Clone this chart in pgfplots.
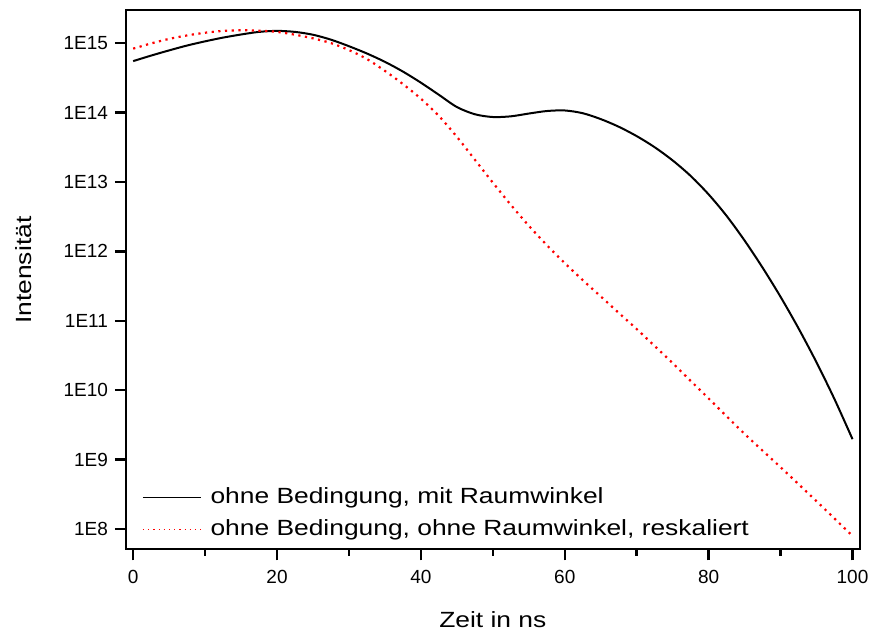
\documentclass[border=0pt]{standalone}
\usepackage{fontspec}
\setmainfont{Liberation Sans}[FakeStretch=1.2]
\newfontfamily\tickfont{Liberation Sans}
\usepackage{pgfplots}
\pgfplotsset{compat=1.18}

% intensity with solid-angle factor
\pgfplotstableread{
x     y
0     5.50e14
2.5   6.61e14
5     7.85e14
7.5   9.23e14
10    1.06e15
12.5  1.20e15
15    1.33e15
17.5  1.45e15
20    1.50e15
22.5  1.45e15
25    1.32e15
27.5  1.12e15
30    9.02e14
32.5  7.08e14
35    5.37e14
37.5  3.89e14
40    2.69e14
42.5  1.80e14
45    1.20e14
47.5  9.44e13
50    8.61e13
52.5  8.81e13
55    9.66e13
57.5  1.05e14
60    1.07e14
62.5  9.77e13
65    8.04e13
67.5  6.24e13
70    4.57e13
72.5  3.16e13
75    2.04e13
77.5  1.22e13
80    6.61e12
82.5  3.24e12
85    1.43e12
87.5  5.82e11
90    2.21e11
92.5  7.76e10
95    2.51e10
97.5  7.41e9
100   1.97e9
}\withsolid

% intensity without solid-angle factor, rescaled
\pgfplotstableread{
x     y
0     8.32e14
2.5   9.89e14
5     1.15e15
7.5   1.29e15
10    1.41e15
12.5  1.50e15
15    1.53e15
17.5  1.51e15
20    1.45e15
22.5  1.32e15
25    1.17e15
27.5  1.00e15
30    7.94e14
32.5  5.89e14
35    3.98e14
37.5  2.57e14
40    1.58e14
42.5  8.91e13
45    4.47e13
47.5  2.09e13
50    9.77e12
52.5  4.68e12
55    2.34e12
57.5  1.23e12
60    6.76e11
62.5  3.85e11
65    2.24e11
67.5  1.30e11
70    7.59e10
72.5  4.32e10
75    2.45e10
77.5  1.36e10
80    7.59e9
85    2.34e9
90    7.76e8
95    2.51e8
100   7.94e7
}\withoutsolid

\begin{document}
\begin{tikzpicture}
\begin{axis}[
  scale only axis, width=367pt, height=269.75pt,
  xmin=-1, xmax=101,
  ymode=log, log basis y=10, ymin=5.1e7, ymax=3.0e15,
  axis line style={line width=1.2pt},
  every tick/.append style={line width=1.2pt, black},
  tick align=outside, tick pos=left,
  major tick length=5.5pt, minor tick length=3.3pt,
  xtick={0,20,40,60,80,100}, minor x tick num=1,
  ytick={1e8,1e9,1e10,1e11,1e12,1e13,1e14,1e15},
  yminorticks=false,
  /pgf/number format/assume math mode=true,
  yticklabel={1E\pgfmathprintnumber[fixed,precision=0]{\tick}},
  ticklabel style={font=\tickfont\fontsize{9.5}{11}\selectfont},
  xticklabel style={yshift=-1.5pt},
  xlabel={Zeit in ns}, ylabel={Intensität},
  label style={font=\fontsize{11}{13}\selectfont},
  xlabel style={at={(axis description cs:0.5,-0.1447)}, anchor=base},
  ylabel style={at={(axis description cs:-0.1294,0.5176)}, anchor=base},
  legend image code/.code={\draw[#1] (0pt,0pt) -- (29pt,0pt);},
  legend cell align=left,
  legend style={draw=none, fill=none, at={(axis description cs:0,0)},
    anchor=south west, xshift=8pt, yshift=5pt, inner sep=0pt,
    font=\fontsize{11}{13}\selectfont, row sep=6.5pt, column sep=4.5pt,
    nodes={inner sep=0pt}},
]
\addplot[black, line width=1pt, smooth, forget plot] table[x=x,y=y] {\withsolid};
\addplot[red, line width=1.1pt, dash pattern=on 1.1pt off 2.25pt, smooth, forget plot] table[x=x,y=y] {\withoutsolid};
\addlegendimage{black, line width=0.6pt}
\addlegendentry{ohne Bedingung, mit Raumwinkel}
\addlegendimage{red, line width=0.6pt, dash pattern=on 0.6pt off 2pt}
\addlegendentry{ohne Bedingung, ohne Raumwinkel, reskaliert}
\coordinate (sw) at (rel axis cs:0,0);
\coordinate (ne) at (rel axis cs:1,1);
\end{axis}
\path ([shift={(-63pt,-42pt)}]sw) rectangle ([shift={(7.5pt,5pt)}]ne);
\end{tikzpicture}
\end{document}
